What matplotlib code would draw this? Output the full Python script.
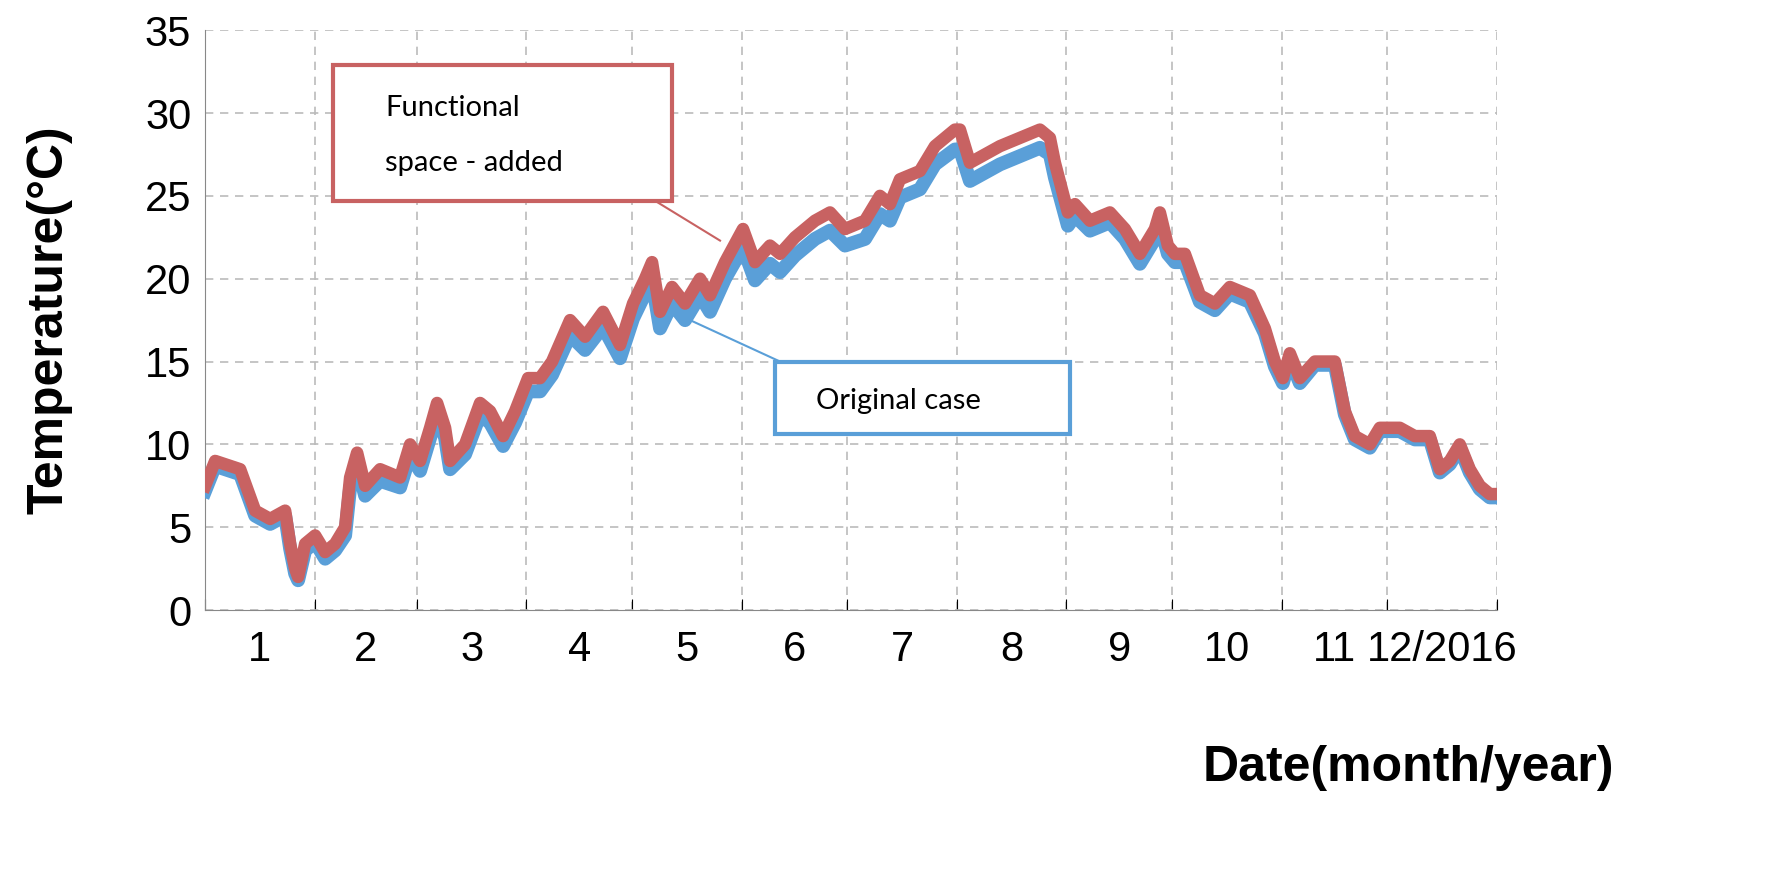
import matplotlib
matplotlib.use("Agg")
import matplotlib.pyplot as plt
from matplotlib.patches import Rectangle

px = [205,215,240,255,270,285,290,295,298,305,315,325,335,345,350,357,365,380,400,410,420,
      430,437,445,450,465,480,490,503,515,528,540,552,570,585,603,620,633,645,652,660,672,685,700,710,725,743,
      755,770,780,795,815,830,845,865,880,890,900,920,935,955,960,970,985,1000,1020,1040,1050,1055,1068,
      1075,1090,1110,1125,1140,1155,1160,1168,1175,1185,1200,1215,1230,1250,1265,1275,1283,
      1290,1300,1315,1335,1345,1355,1370,1380,1390,1400,1415,1430,1440,1450,1460,1470,1480,1490,1497]
days = [(p - 205) / 1292 * 366 for p in px]
functional = [7.5,9,8.5,6,5.5,6,4,2.5,2,4,4.5,3.5,4,5,8,9.5,7.5,8.5,8,10,9,
              11,12.5,11,9,10,12.5,12,10.5,12,14,14,15,17.5,16.5,18,16,18.5,20,21,18,19.5,18.5,20,19,21,23,
              21,22,21.5,22.5,23.5,24,23,23.5,25,24.5,26,26.5,28,29,29,27,27.5,28,28.5,29,28.5,27,24,
              24.5,23.5,24,23,21.5,23,24,22,21.5,21.5,19,18.5,19.5,19,17,15,14,
              15.5,14,15,15,12,10.5,10,11,11,11,10.5,10.5,8.5,9,10,8.5,7.5,7,7]
original = [7.2,8.7,8.2,5.7,5.2,5.7,3.7,2.2,1.8,3.6,4.1,3.1,3.6,4.5,7.4,8.8,6.9,7.8,7.4,9.4,8.4,
            10.4,11.8,10.4,8.5,9.4,11.8,11.3,9.9,11.3,13.2,13.2,14.2,16.6,15.7,17.1,15.2,17.6,19.1,19.9,17.0,18.5,17.5,19.0,18.0,20.0,21.9,
            19.9,20.9,20.4,21.4,22.4,22.9,22.0,22.4,23.9,23.5,24.9,25.4,26.9,27.8,27.8,25.9,26.4,26.9,27.4,27.9,27.5,26.1,23.2,
            23.8,22.9,23.4,22.4,20.9,22.4,23.3,21.5,21.0,21.0,18.6,18.1,19.1,18.6,16.7,14.7,13.7,
            15.2,13.7,14.8,14.8,11.8,10.3,9.8,10.8,10.8,10.8,10.3,10.3,8.3,8.8,9.8,8.3,7.3,6.8,6.8]
month_labels = ["1","2","3","4","5","6","7","8","9","10","11","12/2016"]
month_edges = [0,31,60,91,121,152,182,213,244,274,305,335,366]

RED = "#C86262"
BLUE = "#5A9FD8"

fig = plt.figure(figsize=(17.84, 8.88), dpi=100)
ax = fig.add_axes([0.115, 0.313, 0.724, 0.653])
ax.plot(days, original, color=BLUE, lw=10, solid_joinstyle="round", zorder=3)
ax.plot(days, functional, color=RED, lw=9, solid_joinstyle="round", zorder=4)
ax.set_xlim(0, 366)
ax.set_ylim(0, 35)
ax.set_xticks(month_edges)
ax.set_xticklabels([])
centers = [(month_edges[i] + month_edges[i+1]) / 2 for i in range(12)]
ax.set_xticks(centers, minor=True)
ax.set_xticklabels(month_labels, minor=True)
ax.tick_params(axis="x", which="minor", length=0, pad=14, labelsize=30)
ax.tick_params(axis="x", which="major", length=8, direction="in")
ax.set_yticks(range(0, 36, 5))
ax.tick_params(axis="y", labelsize=30, length=0, pad=10)
for lab in ax.get_xticklabels(minor=True) + ax.get_yticklabels():
    lab.set_fontfamily("Liberation Sans")
ax.grid(True, which="major", color="#BBBBBB", ls=(0, (5, 4)), lw=1.2)
for s in ["top", "right"]:
    ax.spines[s].set_visible(False)
ax.spines["left"].set_color("#888888")
ax.spines["bottom"].set_color("#888888")

ax.add_patch(Rectangle((36.3, 24.7), 96.0, 8.2, fill=True, facecolor="white", edgecolor=RED, lw=3, zorder=5, clip_on=False))
ax.text(51, 30.3, "Functional", fontsize=21, family="Lato", va="center", zorder=6)
ax.text(51, 27.0, "space - added", fontsize=21, family="Lato", va="center", zorder=6)
ax.plot([127.5, 145.9], [24.7, 22.3], color=RED, lw=1.5, zorder=5)
ax.add_patch(Rectangle((161.5, 10.6), 83.5, 4.4, fill=True, facecolor="white", edgecolor=BLUE, lw=3, zorder=5))
ax.text(173, 12.6, "Original case", fontsize=21, family="Lato", va="center", zorder=6)
ax.plot([162.9, 137.4], [15.0, 17.5], color=BLUE, lw=1.5, zorder=5)

fig.text(0.028, 0.64, "Temperature(°C)", rotation=90, fontsize=36, fontweight="bold",
         family="Liberation Sans", ha="center", va="center")
fig.text(0.905, 0.135, "Date(month/year)", fontsize=36, fontweight="bold",
         family="Liberation Sans", ha="right", va="center")
fig.savefig("out.png", dpi=100)
